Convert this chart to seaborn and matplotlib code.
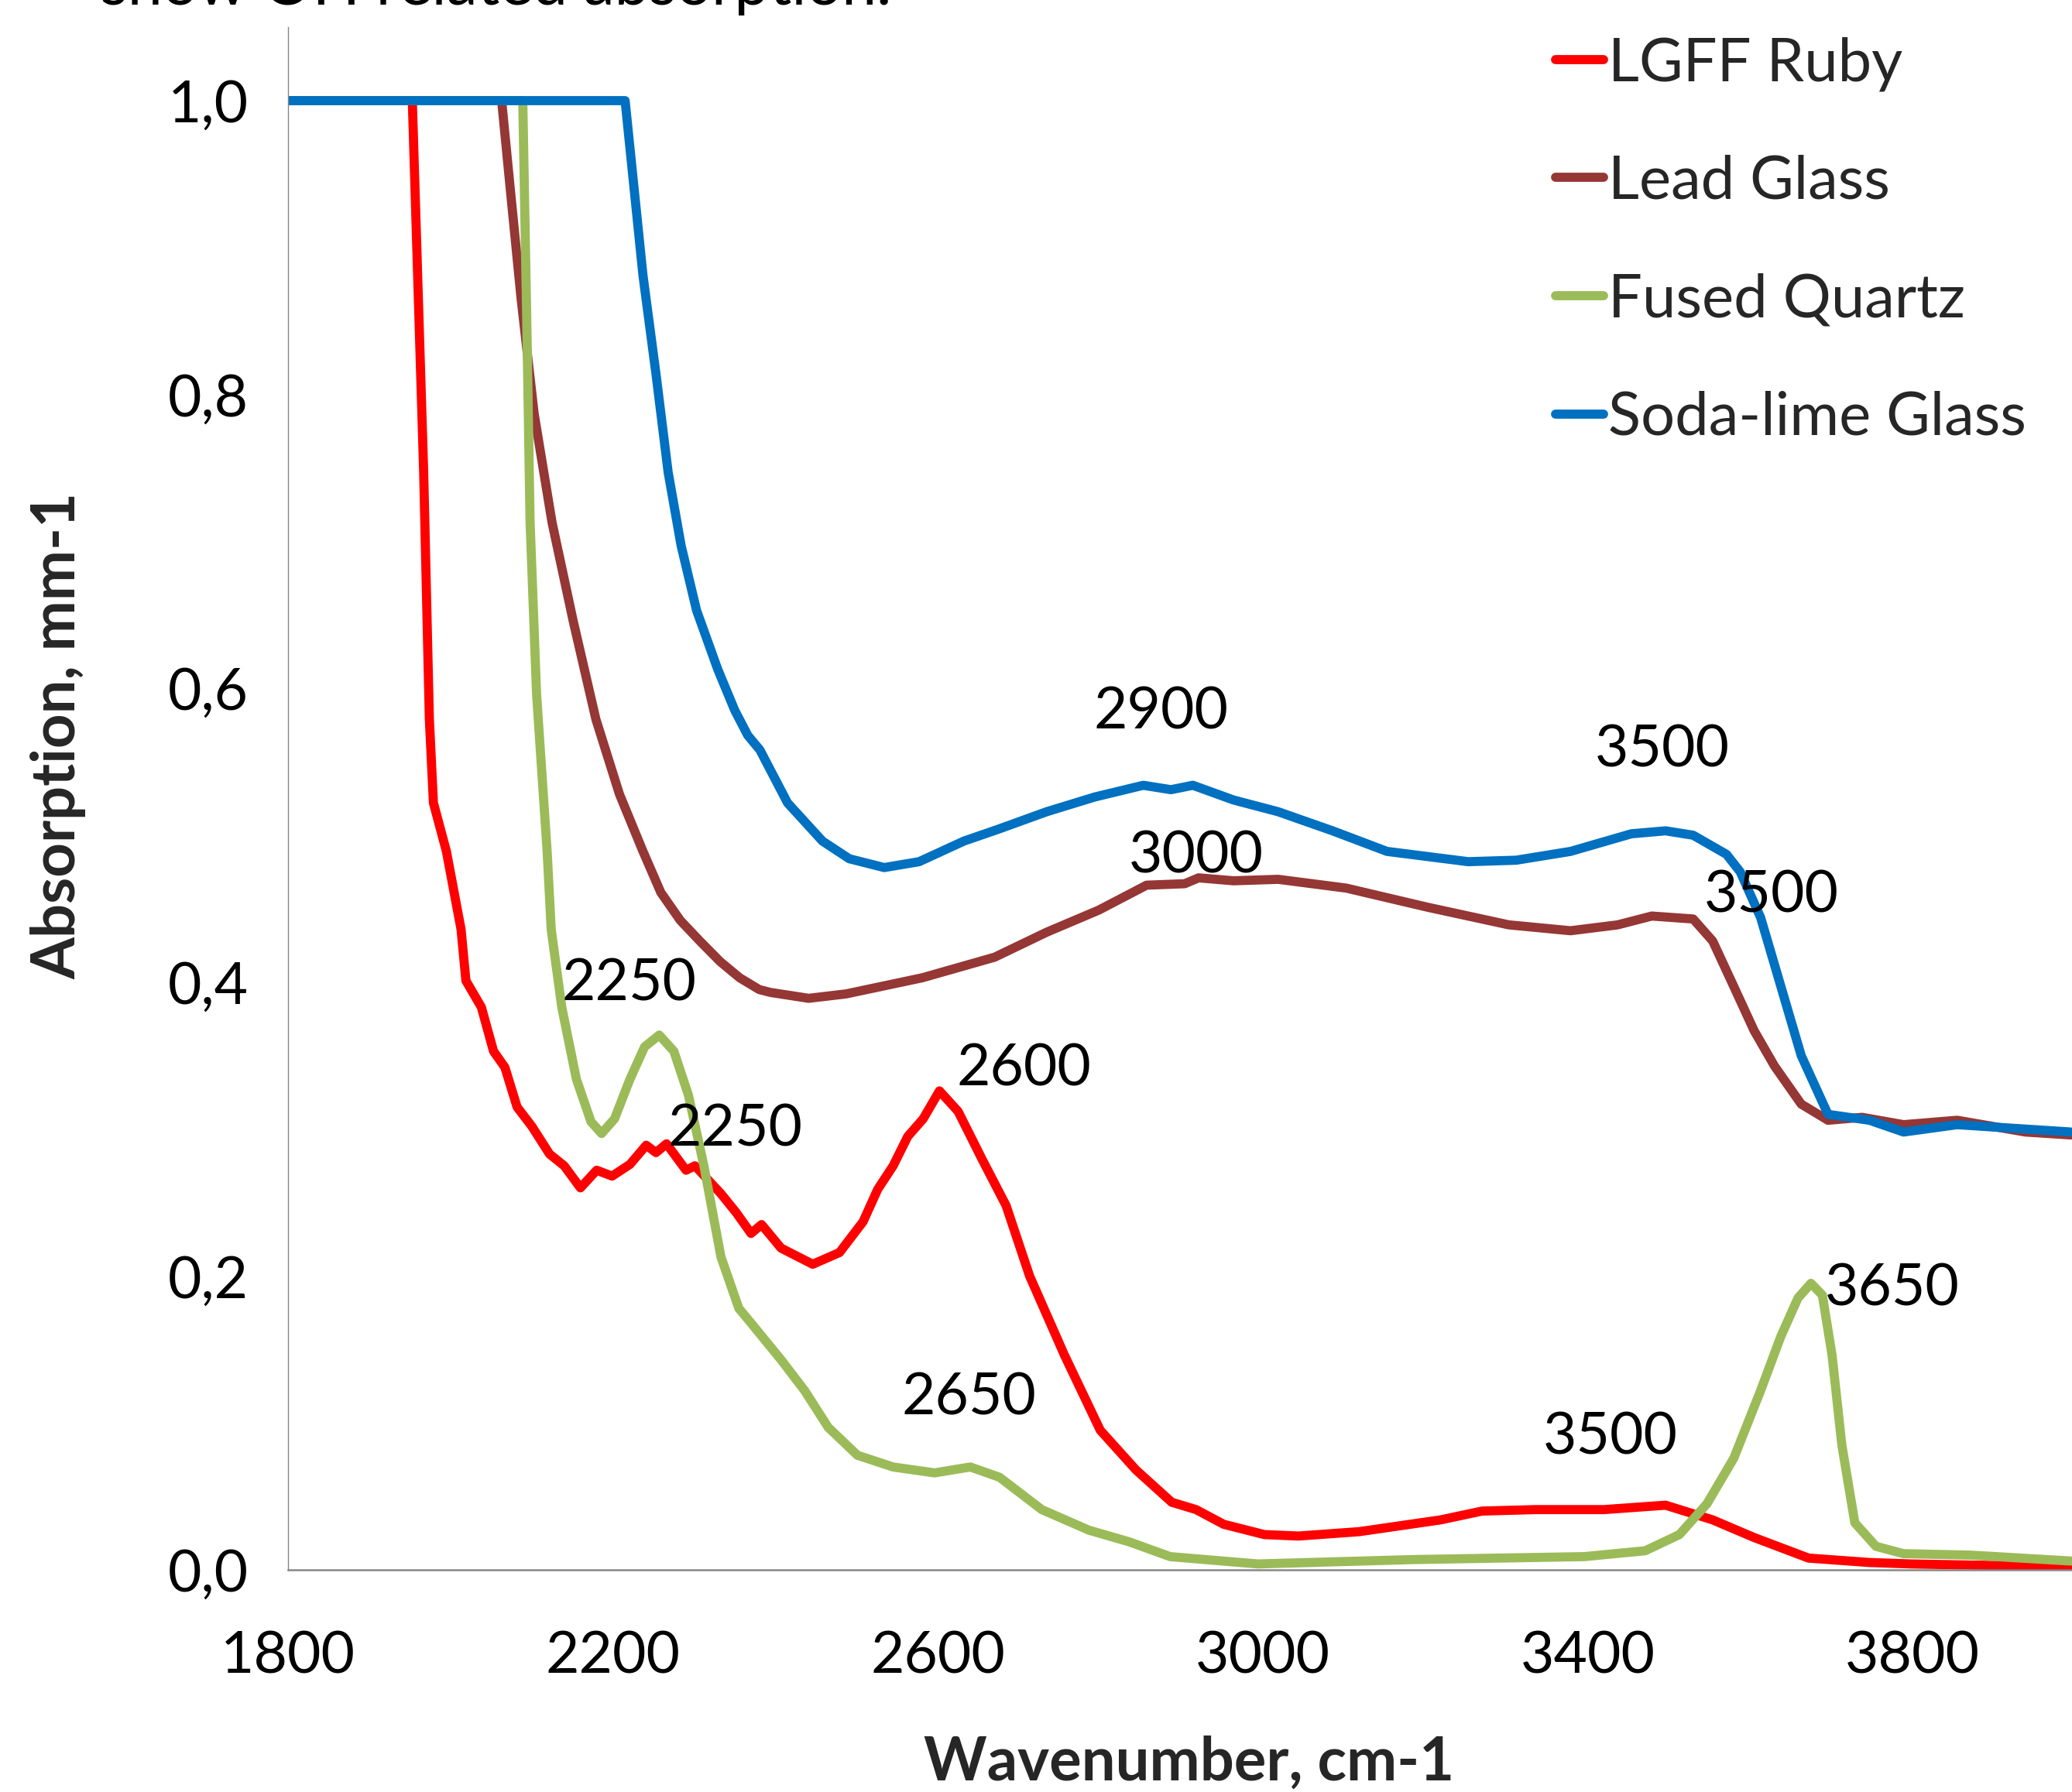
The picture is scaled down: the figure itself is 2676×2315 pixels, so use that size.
import numpy as np
import pandas as pd
import matplotlib
matplotlib.use("Agg")
import matplotlib.pyplot as plt
import seaborn as sns
from matplotlib.ticker import FuncFormatter

# ---------------- data ----------------
series_names = ["LGFF Ruby", "Lead Glass", "Fused Quartz", "Soda-lime Glass"]
series_colors = ["#FF0000", "#953735", "#9BBB59", "#0070C0"]

ruby_x = [1800, 1953, 1967, 1974, 1979, 1995, 2013, 2019, 2038, 2053, 2067, 2082, 2100, 2122, 2140,
          2160, 2180, 2199, 2221, 2241, 2253, 2266, 2290, 2301, 2333, 2352, 2370, 2383, 2407, 2446,
          2479, 2508, 2526, 2545, 2563, 2582, 2602, 2625, 2654, 2684, 2713, 2756, 2800, 2844, 2888,
          2918, 2952, 3002, 3044, 3119, 3219, 3270, 3336, 3420, 3496, 3554, 3605, 3672, 3747, 3798,
          3899, 3995]
ruby_y = [1.0, 1.0, 0.747, 0.579, 0.522, 0.489, 0.436, 0.401, 0.383, 0.353, 0.342, 0.315, 0.302, 0.283, 0.275,
          0.26, 0.272, 0.268, 0.276, 0.289, 0.284, 0.29, 0.272, 0.275, 0.256, 0.243, 0.229, 0.235, 0.219, 0.208,
          0.216, 0.237, 0.259, 0.275, 0.295, 0.307, 0.326, 0.312, 0.28, 0.248, 0.2, 0.146, 0.095, 0.068, 0.046,
          0.041, 0.031, 0.024, 0.023, 0.026, 0.034, 0.04, 0.041, 0.041, 0.044, 0.034, 0.022, 0.008, 0.005, 0.004,
          0.003, 0.002]

lead_x = [1800, 2063, 2075, 2087, 2103, 2125, 2151, 2179, 2208, 2237, 2259, 2283, 2307, 2332, 2356, 2380,
          2394, 2441, 2487, 2581, 2670, 2734, 2798, 2857, 2904, 2921, 2964, 3019, 3103, 3203, 3303, 3379,
          3437, 3479, 3530, 3554, 3580, 3605, 3630, 3663, 3696, 3738, 3789, 3855, 3939, 3995]
lead_y = [1.0, 1.0, 0.932, 0.865, 0.787, 0.713, 0.646, 0.579, 0.528, 0.489, 0.461, 0.442, 0.428, 0.414, 0.403, 0.395,
          0.393, 0.389, 0.392, 0.403, 0.417, 0.434, 0.449, 0.466, 0.467, 0.471, 0.469, 0.47, 0.464, 0.451, 0.439, 0.435,
          0.439, 0.445, 0.443, 0.428, 0.397, 0.367, 0.343, 0.317, 0.306, 0.308, 0.303, 0.306, 0.298, 0.296]

quartz_x = [1800, 2089, 2094, 2098, 2106, 2119, 2124, 2137, 2155, 2173, 2186, 2202, 2221, 2239, 2257, 2275,
            2293, 2312, 2333, 2355, 2370, 2407, 2436, 2465, 2501, 2545, 2596, 2640, 2676, 2728, 2786, 2836,
            2886, 2994, 3186, 3396, 3471, 3513, 3547, 3580, 3613, 3638, 3659, 3675, 3689, 3701, 3713, 3729,
            3755, 3789, 3872, 3995]
quartz_y = [1.0, 1.0, 0.848, 0.713, 0.596, 0.489, 0.436, 0.383, 0.334, 0.305, 0.297, 0.307, 0.334, 0.356, 0.364, 0.353,
            0.323, 0.275, 0.213, 0.178, 0.168, 0.143, 0.122, 0.097, 0.078, 0.07, 0.066, 0.07, 0.063, 0.041, 0.027, 0.019,
            0.009, 0.004, 0.007, 0.009, 0.013, 0.024, 0.045, 0.076, 0.122, 0.159, 0.185, 0.195, 0.187, 0.146, 0.085, 0.032,
            0.016, 0.011, 0.01, 0.006]

soda_x = [1800, 2215, 2237, 2253, 2268, 2284, 2303, 2329, 2350, 2366, 2381, 2415, 2458, 2491, 2534, 2577,
          2632, 2674, 2734, 2793, 2853, 2887, 2914, 2964, 3019, 3086, 3153, 3253, 3312, 3379, 3454, 3496,
          3530, 3571, 3588, 3613, 3638, 3663, 3696, 3747, 3789, 3855, 3939, 3995]
soda_y = [1.0, 1.0, 0.881, 0.814, 0.747, 0.697, 0.653, 0.613, 0.585, 0.568, 0.558, 0.522, 0.496, 0.484, 0.478, 0.482,
          0.496, 0.504, 0.516, 0.526, 0.534, 0.531, 0.534, 0.524, 0.516, 0.503, 0.489, 0.482, 0.483, 0.489, 0.501, 0.503,
          0.5, 0.487, 0.475, 0.444, 0.397, 0.35, 0.31, 0.306, 0.298, 0.303, 0.3, 0.298]

# peak annotations (label, x, y)
ann_labels = ["2900", "3000", "3500", "3500", "2600", "2250", "2250", "2650", "3500", "3650"]
ann_x = [2875, 2918, 3492, 3626, 2706, 2220, 2351, 2638, 3428, 3775]
ann_y = [0.584, 0.486, 0.558, 0.459, 0.341, 0.399, 0.300, 0.117, 0.090, 0.191]

x_ticks = [1800, 2200, 2600, 3000, 3400, 3800]
y_ticks = [0.0, 0.2, 0.4, 0.6, 0.8, 1.0]

title_text = "show OH related absorption."
x_label = "Wavenumber, cm-1"
y_label = "Absorption, mm-1"

# ---------------- frame ----------------
frames = []
for name, xs, ys in zip(series_names,
                        [ruby_x, lead_x, quartz_x, soda_x],
                        [ruby_y, lead_y, quartz_y, soda_y]):
    frames.append(pd.DataFrame({"wavenumber": xs, "absorption": ys, "sample": name}))
df = pd.concat(frames, ignore_index=True)

# ---------------- style ----------------
sns.set_style("white")
plt.rcParams["font.family"] = ["Lato", "DejaVu Sans"]

W, H = 2676, 2315
DPI = 100
fig = plt.figure(figsize=(W / DPI, H / DPI), dpi=DPI)

ax_left = 372 / W
ax_bottom = 1 - 2028 / H
ax_w = 2200 * 1.049 / W
ax_h = 1.05 * 1898 / H
ax = fig.add_axes([ax_left, ax_bottom, ax_w, ax_h])

LW = 8.5
palette = dict(zip(series_names, series_colors))
sns.lineplot(data=df, x="wavenumber", y="absorption", hue="sample",
             hue_order=series_names, palette=palette, estimator=None,
             linewidth=LW, ax=ax, legend=True,
             solid_joinstyle="round", solid_capstyle="round")

ax.set_xlim(1800, 4000)
ax.set_ylim(0, 1.05)
ax.set_xticks(x_ticks)
ax.set_yticks(y_ticks)
ax.yaxis.set_major_formatter(FuncFormatter(lambda v, p: f"{v:.1f}".replace(".", ",")))

grey = "#868686"
for s in ["top", "right"]:
    ax.spines[s].set_visible(False)
ax.spines["left"].set_color(grey)
ax.spines["left"].set_linewidth(1.0)
ax.spines["bottom"].set_color(grey)
ax.spines["bottom"].set_linewidth(1.8)

ax.tick_params(axis="both", which="major", direction="out", length=18.7, width=1.0,
               color=grey, labelsize=54, labelcolor="black")
ax.tick_params(axis="y", pad=18)
ax.tick_params(axis="x", pad=37)

ax.set_xlabel(x_label, fontsize=56, fontweight="bold")
ax.set_ylabel(y_label, fontsize=56, fontweight="bold")
ax.xaxis.label.set_va("baseline")
ax.yaxis.label.set_va("baseline")
ax.xaxis.set_label_coords((1536 - 372) / (ax_w * W), (2028 - 2300) / (ax_h * H))
ax.yaxis.set_label_coords((97 - 372) / (ax_w * W), (2028 - 950) / (ax_h * H))

for lab, xv, yv in zip(ann_labels, ann_x, ann_y):
    ax.text(xv, yv, lab, fontsize=54, ha="center", va="center", color="black")

handles, labels = ax.get_legend_handles_labels()
leg = ax.legend(handles, labels, loc="upper left",
                bbox_to_anchor=(2009 / W, 1 - 47 / H), bbox_transform=fig.transFigure,
                frameon=False, fontsize=56, handlelength=0.8, handletextpad=0.07,
                labelspacing=1.05, borderpad=0, borderaxespad=0)
for ln in leg.get_lines():
    ln.set_linewidth(LW)
    ln.set_solid_capstyle("round")

fig.text(130 / W, 1 - 6 / H, title_text, fontsize=58, ha="left", va="baseline", color="black")

fig.savefig("out.png", dpi=DPI)
